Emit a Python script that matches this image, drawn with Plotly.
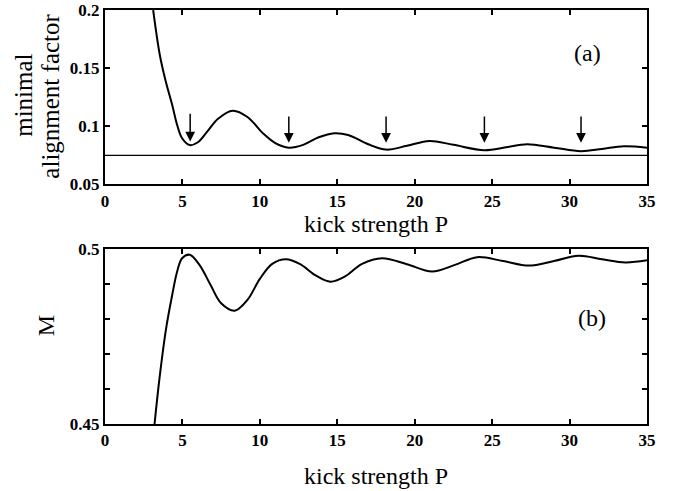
import plotly.graph_objects as go

# ---------------- data ----------------
P_a = [3.11, 3.54, 3.9, 4.34, 4.66, 4.98, 5.47, 6.0, 6.6, 7.3, 8.25, 9.2, 10.2, 11.0,
       11.87, 12.8, 13.8, 14.8, 15.7, 17.0, 18.15, 19.5, 20.95, 22.5, 24.5, 25.9,
       27.25, 29.0, 30.74, 32.1, 33.5, 35.0]
align_a = [0.2, 0.1613, 0.1398, 0.1183, 0.1011, 0.0897, 0.0838, 0.0862, 0.0954, 0.1065,
           0.1134, 0.108, 0.094, 0.0855, 0.0816, 0.0840, 0.0905, 0.0940, 0.0925, 0.0845,
           0.0799, 0.0832, 0.0874, 0.0840, 0.0794, 0.0819, 0.0846, 0.0816, 0.0785,
           0.0805, 0.0828, 0.0816]
threshold_a = 0.075

arrow_P = [5.5, 11.87, 18.15, 24.5, 30.74]
arrow_top = [0.1121, 0.1097, 0.1097, 0.1097, 0.1097]
arrow_tip = [0.0868, 0.0859, 0.0859, 0.0859, 0.0859]

P_b = [3.2, 3.52, 3.95, 4.34, 4.66, 4.98, 5.47, 6.1, 6.81, 7.5, 8.38, 9.2, 10.0, 10.8,
       11.69, 12.6, 13.6, 14.56, 15.5, 16.6, 17.9, 19.5, 21.12, 22.6, 24.03, 25.7,
       27.36, 29.0, 30.58, 32.1, 33.6, 35.0]
M_b = [0.45, 0.4631, 0.4774, 0.4869, 0.4936, 0.4974, 0.4984, 0.4955, 0.4898, 0.4845,
       0.4824, 0.4855, 0.4915, 0.4958, 0.4971, 0.4957, 0.4925, 0.4907, 0.4922, 0.4958,
       0.4974, 0.4957, 0.4936, 0.4955, 0.4977, 0.4966, 0.4953, 0.4966, 0.4981, 0.4971,
       0.4962, 0.4968]

x_ticks = [0, 5, 10, 15, 20, 25, 30, 35]
ya_ticks = [0.05, 0.1, 0.15, 0.2]
ya_labels = ["0.05", "0.1", "0.15", "0.2"]
yb_ticks = [0.45, 0.46, 0.47, 0.48, 0.49, 0.5]
yb_labels = ["0.45", "", "", "", "", "0.5"]

# ---------------- layout geometry ----------------
W, H = 673, 491
ML, MR, MT, MB = 104.5, 26.3, 10, 66.7
plot_h = H - MT - MB
plot_w = W - ML - MR


def py(pix):
    return (H - MB - pix) / plot_h


def px(pix):
    return (pix - ML) / plot_w


FONT = "Liberation Serif"
tick_font = dict(family=FONT, size=17, color="black", weight="bold")
title_font = dict(family=FONT, size=24, color="black")
ytitle_font = dict(family=FONT, size=25, color="black")

fig = go.Figure()

fig.add_trace(go.Scatter(x=P_a, y=align_a, mode="lines", xaxis="x", yaxis="y",
                         line=dict(color="black", width=2, shape="spline", smoothing=1.0),
                         showlegend=False, hoverinfo="skip"))
fig.add_trace(go.Scatter(x=[0, 35], y=[threshold_a, threshold_a], mode="lines",
                         xaxis="x", yaxis="y", line=dict(color="black", width=1.2),
                         showlegend=False, hoverinfo="skip"))
fig.add_trace(go.Scatter(x=P_b, y=M_b, mode="lines", xaxis="x2", yaxis="y2",
                         line=dict(color="black", width=2, shape="spline", smoothing=1.0),
                         showlegend=False, hoverinfo="skip"))

axis_common = dict(showline=True, linewidth=2, linecolor="black", mirror="ticks",
                   ticks="inside", ticklen=5, tickwidth=1.5, tickcolor="black",
                   showgrid=False, zeroline=False, tickfont=tick_font,
                   automargin=False)

top_domain = [py(184.5), 1.0]
bot_domain = [0.0, py(249.3)]

fig.update_layout(
    width=W, height=H, autosize=False,
    margin=dict(l=ML, r=MR, t=MT, b=MB, autoexpand=False),
    paper_bgcolor="white", plot_bgcolor="white",
    xaxis=dict(range=[0, 35], tickvals=x_ticks, anchor="y", **axis_common),
    yaxis=dict(range=[0.05, 0.2], tickvals=ya_ticks, ticktext=ya_labels,
               domain=top_domain, anchor="x", **axis_common),
    xaxis2=dict(range=[0, 35], tickvals=x_ticks, anchor="y2", **axis_common),
    yaxis2=dict(range=[0.45, 0.5], tickvals=yb_ticks, ticktext=yb_labels,
                domain=bot_domain, anchor="x2", **axis_common),
)

annotations = []
# arrows marking the minima
for p, top, tip in zip(arrow_P, arrow_top, arrow_tip):
    annotations.append(dict(x=p, y=tip, ax=p, ay=top, xref="x", yref="y",
                            axref="x", ayref="y", showarrow=True, arrowhead=2,
                            arrowsize=1.3, arrowwidth=1.5, arrowcolor="black",
                            standoff=0, text=""))
# panel labels
annotations.append(dict(x=31.16, y=0.1633, xref="x", yref="y", text="(a)",
                        showarrow=False, font=title_font))
annotations.append(dict(x=31.42, y=0.4804, xref="x2", yref="y2", text="(b)",
                        showarrow=False, font=title_font))
# axis titles
annotations.append(dict(x=px(375.6), y=py(224.5), xref="paper", yref="paper",
                        text="kick strength P", showarrow=False, font=title_font,
                        xanchor="center", yanchor="middle"))
annotations.append(dict(x=px(375.6), y=py(476), xref="paper", yref="paper",
                        text="kick strength P", showarrow=False, font=title_font,
                        xanchor="center", yanchor="middle"))
annotations.append(dict(x=px(23.5), y=py(95.8), xref="paper", yref="paper",
                        text="minimal", textangle=-90, showarrow=False, font=ytitle_font,
                        xanchor="center", yanchor="middle"))
annotations.append(dict(x=px(50.5), y=py(96.7), xref="paper", yref="paper",
                        text="alignment factor", textangle=-90, showarrow=False,
                        font=ytitle_font, xanchor="center", yanchor="middle"))
annotations.append(dict(x=px(45), y=py(326), xref="paper", yref="paper",
                        text="M", textangle=-90, showarrow=False, font=title_font,
                        xanchor="center", yanchor="middle"))
fig.update_layout(annotations=annotations)

fig.write_html("out.html", config={"displayModeBar": False},
               post_script="document.body.style.margin='0';document.body.style.padding='0';")
